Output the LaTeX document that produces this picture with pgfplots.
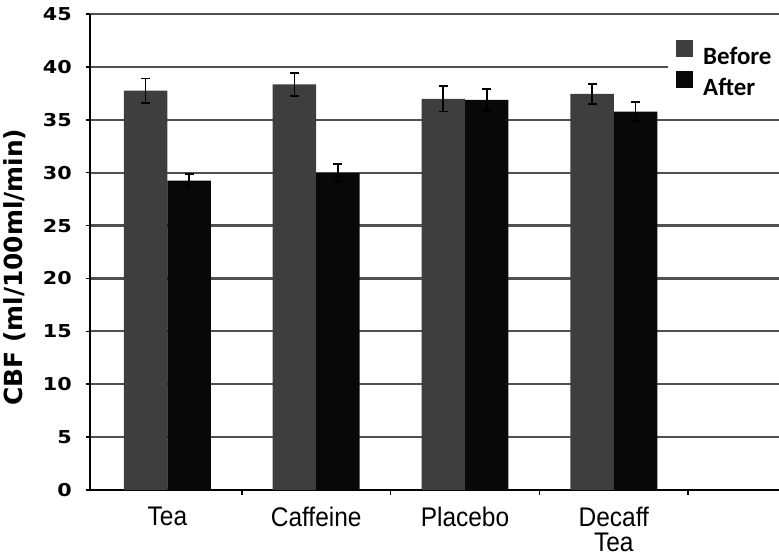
\documentclass[border=0pt]{standalone}
\usepackage{pgfplots}
\pgfplotsset{compat=1.18}
\usepackage{fontspec}
\setmainfont{Liberation Sans}
\newfontfamily\dv{DejaVu Sans}
\newfontfamily\lsn{Liberation Sans}[FakeStretch=0.91]
\newfontfamily\cb{Carlito}
\definecolor{beforec}{RGB}{62,62,62}
\definecolor{afterc}{RGB}{8,8,8}
\definecolor{gridc}{RGB}{80,80,80}
\begin{document}
\begin{tikzpicture}
\useasboundingbox (-90bp,-68bp) rectangle (689bp,490bp);
\begin{axis}[
  at={(0,0)}, anchor=south west,
  scale only axis, width=689bp, height=476bp,
  xmin=-0.52, xmax=4.11, ymin=0, ymax=45,
  axis x line*=bottom, axis y line*=left,
  x axis line style={-, line width=2.2bp, black},
  y axis line style={-, line width=2bp, black},
  ytick={0,5,...,45},
  xtick={0,1,2,3,4},
  xticklabels={Tea,Caffeine,Placebo,Decaff\\Tea,{}},
  minor x tick num=1,
  major x tick style={draw=none},
  minor x tick style={black, line width=1.5bp},
  minor tick length=5bp,
  major tick length=4bp,
  tick align=outside,
  ytick style={black, line width=1.5bp},
  ymajorgrids,
  major grid style={gridc, line width=2.2bp},
  /pgf/number format/assume math mode=true,
  yticklabel={\scalebox{1.17}[1]{\pgfmathprintnumber{\tick}}},
  yticklabel style={font=\dv\bfseries\fontsize{17.8}{17.8}\selectfont, anchor=east, inner sep=0pt, xshift=-14bp},
  xticklabel style={font=\lsn\fontsize{27}{25.5}\selectfont, align=center, anchor=north, inner sep=0pt, yshift=-12.5bp},
  ylabel={CBF (ml/100ml/min)},
  ylabel style={font=\dv\bfseries\fontsize{25}{25}\selectfont, at={(axis description cs:-0.109,0.468)}, anchor=center, rotate=0},
  ybar=0pt, bar width=0.292,
  legend style={at={(axis description cs:0.8389,0.962)}, anchor=north west, fill=white, draw=none,
    inner xsep=8bp, inner ysep=8bp,
    font=\cb\bfseries\fontsize{25}{25}\selectfont,
    row sep=6bp,
    nodes={inner sep=0pt, text height=16bp, text depth=0pt},
    /tikz/every odd column/.append style={column sep=10bp}},
  legend cell align=left,
  legend image code/.code={\fill[#1,draw=none] (0bp,-0.5bp) rectangle (17bp,16.5bp);},
  error bars/error bar style={black, line width=1.6bp},
  error bars/error mark options={rotate=90, mark size=4.5bp, line width=1.6bp, black},
]
\addplot[fill=beforec, draw=none, error bars/.cd, y dir=both, y explicit]
  coordinates {(0,37.75) +- (0,1.15) (1,38.35) +- (0,1.1) (2,36.97) +- (0,1.2) (3,37.44) +- (0,0.95)};
\addplot[fill=afterc, draw=none, error bars/.cd, y dir=both, y explicit]
  coordinates {(0,29.25) +- (0,0.65) (1,29.95) +- (0,0.85) (2,36.87) +- (0,1.05) (3,35.77) +- (0,0.9)};
\legend{Before,After}
\end{axis}
\end{tikzpicture}
\end{document}
